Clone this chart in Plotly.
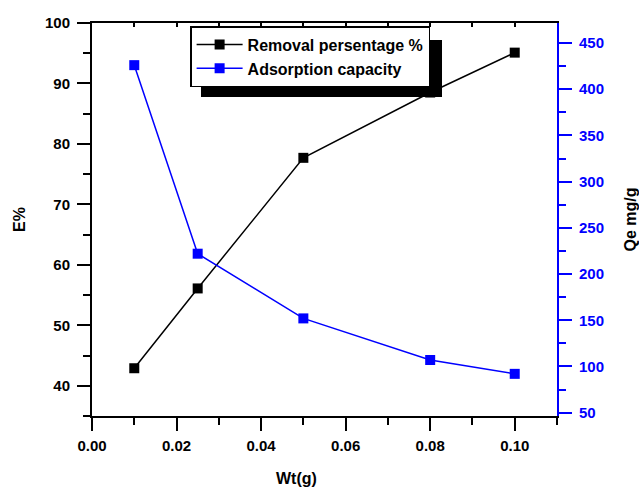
import plotly.graph_objects as go

wt = [0.01, 0.025, 0.05, 0.08, 0.10]
removal = [42.9, 56.1, 77.7, 88.5, 95.1]
capacity = [426, 222, 152, 107, 92]

FONT = "Liberation Sans, Arial, sans-serif"
BLUE = "#0000FF"

fig = go.Figure()
fig.add_trace(go.Scatter(
    x=wt, y=removal, name="Removal persentage %", mode="lines+markers",
    line=dict(color="black", width=1.5),
    marker=dict(symbol="square", size=10, color="black"),
))
fig.add_trace(go.Scatter(
    x=wt, y=capacity, name="Adsorption capacity", mode="lines+markers",
    yaxis="y2", line=dict(color=BLUE, width=1.5),
    marker=dict(symbol="square", size=10, color=BLUE),
))
# helper (empty) trace so the mirrored top axis is drawn
fig.add_trace(go.Scatter(x=[], y=[], xaxis="x2", showlegend=False, hoverinfo="skip"))

tickfont = dict(family=FONT, size=15, color="black", weight="bold")

fig.update_layout(
    width=639, height=489,
    margin=dict(l=92, r=82, t=23, b=73, autoexpand=False),
    plot_bgcolor="white", paper_bgcolor="white",
    showlegend=True,
    legend=dict(
        x=0.211, y=0.992, xanchor="left", yanchor="top",
        bgcolor="white", bordercolor="black", borderwidth=1.5,
        font=dict(family=FONT, size=16, color="black", weight="bold"),
        tracegroupgap=0, itemwidth=46,
    ),
    xaxis=dict(
        range=[0, 0.11], dtick=0.02, tick0=0, tickformat=".2f", automargin=False,
        showgrid=False, zeroline=False,
        showline=True, linecolor="black", linewidth=2,
        ticks="outside", ticklen=13, tickwidth=2, tickcolor="black",
        minor=dict(dtick=0.01, ticks="outside", ticklen=7, tickwidth=2, tickcolor="black"),
        tickfont=tickfont, ticklabelstandoff=2,
    ),
    xaxis2=dict(
        range=[0, 0.11], dtick=0.02, tick0=0, overlaying="x", side="top", anchor="y",
        automargin=False,
        showgrid=False, zeroline=False, showticklabels=False,
        showline=True, linecolor="black", linewidth=2,
        ticks="inside", ticklen=4, tickwidth=2, tickcolor="black",
        minor=dict(dtick=0.01, ticks="inside", ticklen=4, tickwidth=2, tickcolor="black"),
    ),
    yaxis=dict(
        range=[35, 100], dtick=10, tick0=0, automargin=False,
        showgrid=False, zeroline=False,
        showline=True, linecolor="black", linewidth=2,
        ticks="outside", ticklen=13, tickwidth=2, tickcolor="black",
        minor=dict(dtick=5, ticks="outside", ticklen=7, tickwidth=2, tickcolor="black"),
        tickfont=tickfont, ticklabelstandoff=4,
        title=dict(text="E%", font=dict(family=FONT, size=16, color="black", weight="bold"), standoff=15),
    ),
    yaxis2=dict(
        range=[46.4, 471.6], dtick=50, tick0=0, overlaying="y", side="right", anchor="x",
        automargin=False,
        showgrid=False, zeroline=False,
        showline=True, linecolor=BLUE, linewidth=2,
        ticks="outside", ticklen=13, tickwidth=2, tickcolor=BLUE,
        minor=dict(dtick=25, ticks="outside", ticklen=7, tickwidth=2, tickcolor=BLUE),
        tickfont=dict(family=FONT, size=15, color=BLUE, weight="bold"), ticklabelstandoff=4,
        title=dict(text="Qe mg/g", font=dict(family=FONT, size=16, color="black", weight="bold"), standoff=24),
    ),
    annotations=[dict(
        text="Wt(g)", xref="paper", yref="paper", x=0.439, y=-0.16,
        xanchor="center", yanchor="middle", showarrow=False,
        font=dict(family=FONT, size=16, color="black", weight="bold"),
    )],
    shapes=[dict(
        type="rect", xref="paper", yref="paper", layer="above",
        x0=0.2344, x1=0.7527, y0=0.8117, y1=0.9567,
        fillcolor="black", line=dict(width=0),
    )],
)

fig.write_html("out.html")
